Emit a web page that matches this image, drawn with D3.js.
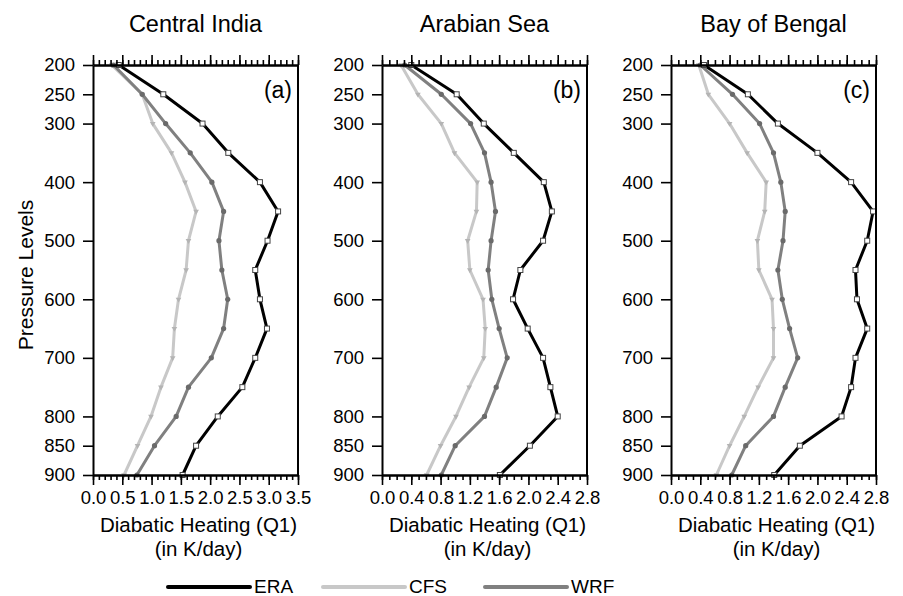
<!DOCTYPE html>
<html>
<head>
<meta charset="utf-8">
<script src="https://cdn.jsdelivr.net/npm/d3@7"></script>
<style>
  body { margin: 0; background: #fff; overflow: hidden; }
  text { font-family: "Liberation Sans", Arial, sans-serif; fill: #000; }
  .axis path, .axis line { stroke: #000; }
  .axis path { stroke-width: 2; }
  .axis line { stroke-width: 1.6; }
  .axis text { font-size: 18.5px; }
</style>
</head>
<body>
<script>
//chart data
var levels = [200, 250, 300, 350, 400, 450, 500, 550, 600, 650, 700, 750, 800, 850, 900];
var levelTicks = [200, 250, 300, 400, 500, 600, 700, 800, 850, 900];

var titles = ["Central India", "Arabian Sea", "Bay of Bengal"];
var panelLabels = ["(a)", "(b)", "(c)"];
var xMax = [3.5, 2.8, 2.8];
var xStep = [0.5, 0.4, 0.4];

//Central India
var eraA = [0.44, 1.20, 1.87, 2.31, 2.85, 3.16, 2.98, 2.77, 2.85, 2.97, 2.77, 2.55, 2.13, 1.76, 1.53];
var cfsA = [0.32, 0.84, 1.02, 1.34, 1.57, 1.76, 1.63, 1.59, 1.46, 1.39, 1.36, 1.16, 0.99, 0.76, 0.53];
var wrfA = [0.35, 0.84, 1.24, 1.66, 2.03, 2.23, 2.15, 2.20, 2.30, 2.23, 2.02, 1.63, 1.42, 1.05, 0.75];
//Arabian Sea
var eraB = [0.40, 1.02, 1.39, 1.80, 2.21, 2.32, 2.20, 1.89, 1.79, 1.99, 2.20, 2.30, 2.40, 2.02, 1.61];
var cfsB = [0.26, 0.49, 0.81, 0.99, 1.30, 1.29, 1.17, 1.20, 1.38, 1.41, 1.39, 1.19, 1.01, 0.80, 0.61];
var wrfB = [0.31, 0.81, 1.21, 1.40, 1.49, 1.55, 1.49, 1.45, 1.50, 1.60, 1.71, 1.56, 1.40, 1.00, 0.81];
//Bay of Bengal
var eraC = [0.45, 1.05, 1.46, 2.00, 2.46, 2.76, 2.68, 2.52, 2.54, 2.68, 2.52, 2.46, 2.33, 1.76, 1.41];
var cfsC = [0.38, 0.51, 0.80, 1.04, 1.30, 1.28, 1.18, 1.20, 1.38, 1.40, 1.40, 1.19, 1.00, 0.80, 0.62];
var wrfC = [0.40, 0.84, 1.21, 1.40, 1.50, 1.56, 1.53, 1.46, 1.52, 1.62, 1.73, 1.56, 1.40, 1.02, 0.83];

var seriesNames = ["ERA", "CFS", "WRF"];
var seriesColors = ["#000000", "#c8c8c8", "#808080"];

window.onload = function(){

    var w = 903, h = 596;
    var svg = d3.select("body")
        .append("svg")
        .attr("width", w)
        .attr("height", h)
        .style("display", "block");

    var panelLeft = [93, 382, 671];
    var panelW = 205;
    var top = 65, bottom = 475;

    var y = d3.scaleLinear()
        .domain([200, 900])
        .range([top, bottom]);

    var panelData = [
        [eraA, cfsA, wrfA],
        [eraB, cfsB, wrfB],
        [eraC, cfsC, wrfC]
    ];

    panelData.forEach(function(series, p){
        var x0 = panelLeft[p];
        var x = d3.scaleLinear()
            .domain([0, xMax[p]])
            .range([x0, x0 + panelW]);

        var nMaj = Math.round(xMax[p] / xStep[p]);
        var major = d3.range(nMaj + 1).map(function(i){ return +(i * xStep[p]).toFixed(2); });
        var minor = d3.range(Math.round(xMax[p] * 10) + 1).map(function(i){ return +(i * 0.1).toFixed(2); });

        var g = svg.append("g").attr("class", "panel");

        var line = d3.line()
            .x(function(d){ return x(d); })
            .y(function(d, i){ return y(levels[i]); });

        //CFS, WRF, then ERA on top
        [1, 2, 0].forEach(function(s){
            g.append("path")
                .datum(series[s])
                .attr("d", line)
                .style("fill", "none")
                .style("stroke", seriesColors[s])
                .style("stroke-width", 3)
                .style("stroke-linejoin", "round");

            var marks = g.selectAll(".m" + s)
                .data(series[s])
                .enter();
            if (s === 0){
                marks.append("rect")
                    .attr("x", function(d){ return x(d) - 2.5; })
                    .attr("y", function(d, i){ return y(levels[i]) - 2.5; })
                    .attr("width", 5)
                    .attr("height", 5)
                    .style("fill", "#fff")
                    .style("stroke", "#444")
                    .style("stroke-width", 1);
            } else if (s === 2){
                marks.append("circle")
                    .attr("cx", function(d){ return x(d); })
                    .attr("cy", function(d, i){ return y(levels[i]); })
                    .attr("r", 2.6)
                    .style("fill", "#6a6a6a");
            } else {
                marks.append("path")
                    .attr("d", d3.symbol().type(d3.symbolTriangle).size(14))
                    .attr("transform", function(d, i){
                        return "translate(" + x(d) + "," + y(levels[i]) + ") rotate(180)";
                    })
                    .style("fill", "#b4b4b4");
            }
        });

        //bottom axis with labels
        g.append("g")
            .attr("class", "axis")
            .attr("transform", "translate(0," + bottom + ")")
            .call(d3.axisBottom(x).tickValues(minor).tickSize(5).tickSizeOuter(0).tickFormat(""));
        g.append("g")
            .attr("class", "axis")
            .attr("transform", "translate(0," + bottom + ")")
            .call(d3.axisBottom(x).tickValues(major).tickSize(10).tickSizeOuter(0)
                .tickPadding(6).tickFormat(d3.format(".1f")));

        //top axis, ticks only
        g.append("g")
            .attr("class", "axis")
            .attr("transform", "translate(0," + top + ")")
            .call(d3.axisTop(x).tickValues(minor).tickSize(5).tickSizeOuter(0).tickFormat(""));
        g.append("g")
            .attr("class", "axis")
            .attr("transform", "translate(0," + top + ")")
            .call(d3.axisTop(x).tickValues(major).tickSize(10).tickSizeOuter(0).tickFormat(""));

        //left axis
        g.append("g")
            .attr("class", "axis")
            .attr("transform", "translate(" + x0 + ",0)")
            .call(d3.axisLeft(y).tickValues(levelTicks).tickSize(10).tickSizeOuter(0).tickPadding(8));

        //right edge of the frame
        g.append("line")
            .attr("x1", x0 + panelW).attr("x2", x0 + panelW)
            .attr("y1", top).attr("y2", bottom)
            .style("stroke", "#000")
            .style("stroke-width", 2);

        //title
        g.append("text")
            .attr("x", x0 + panelW / 2)
            .attr("y", 32)
            .attr("text-anchor", "middle")
            .style("font-size", "23.5px")
            .text(titles[p]);

        //panel letter
        g.append("text")
            .attr("x", x0 + panelW - 6)
            .attr("y", 98)
            .attr("text-anchor", "end")
            .style("font-size", "23px")
            .text(panelLabels[p]);

        //x axis title, two lines
        var xt = g.append("text")
            .attr("text-anchor", "middle")
            .attr("y", 532)
            .style("font-size", "20.5px");
        xt.append("tspan")
            .attr("x", x0 + panelW / 2 + 3)
            .text("Diabatic Heating (Q1)");
        xt.append("tspan")
            .attr("x", x0 + panelW / 2 + 3)
            .attr("dy", 23.5)
            .text("(in K/day)");
    });

    //y axis title
    svg.append("text")
        .attr("transform", "translate(33,275) rotate(-90)")
        .attr("text-anchor", "middle")
        .style("font-size", "21px")
        .text("Pressure Levels");

    //legend
    var legX = [168, 323, 485];
    var legend = svg.selectAll(".legend")
        .data(seriesNames)
        .enter()
        .append("g")
        .attr("class", "legend");
    legend.append("line")
        .attr("x1", function(d, i){ return legX[i]; })
        .attr("x2", function(d, i){ return legX[i] + 82; })
        .attr("y1", 587).attr("y2", 587)
        .style("stroke", function(d, i){ return seriesColors[i]; })
        .style("stroke-width", 4)
        .style("stroke-linecap", "round");
    legend.append("text")
        .attr("x", function(d, i){ return legX[i] + 86; })
        .attr("y", 593)
        .style("font-size", "19px")
        .text(function(d){ return d; });
};
</script>
</body>
</html>
